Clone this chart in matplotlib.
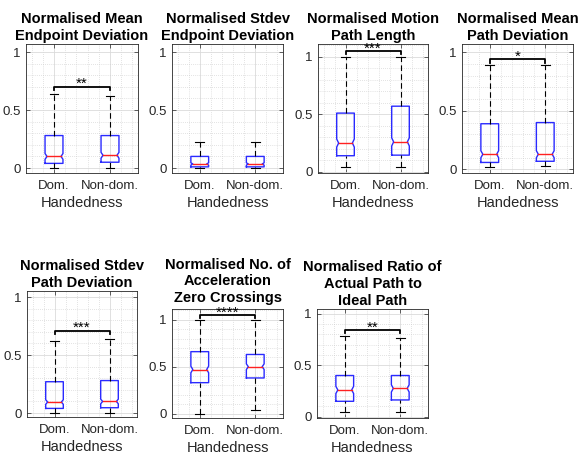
import matplotlib
matplotlib.use("Agg")
import matplotlib.pyplot as plt
from matplotlib.ticker import MultipleLocator

plt.rcParams['font.family'] = ['Liberation Sans', 'DejaVu Sans']

titles = [
    "Normalised Mean\nEndpoint Deviation",
    "Normalised Stdev\nEndpoint Deviation",
    "Normalised Motion\nPath Length",
    "Normalised Mean\nPath Deviation",
    "Normalised Stdev\nPath Deviation",
    "Normalised No. of\nAcceleration\nZero Crossings",
    "Normalised Ratio of\nActual Path to\nIdeal Path",
]
groups = ["Dom.", "Non-dom."]
xlabel = "Handedness"

# box statistics per panel (dominant hand)
lo_dom    = [0.00, 0.00, 0.04, 0.02, 0.00, 0.00, 0.045]
q1_dom    = [0.04, 0.01, 0.14, 0.06, 0.04, 0.33, 0.15]
med_dom   = [0.10, 0.035, 0.25, 0.13, 0.095, 0.47, 0.26]
q3_dom    = [0.28, 0.10, 0.51, 0.39, 0.27, 0.66, 0.40]
hi_dom    = [0.64, 0.225, 1.00, 0.89, 0.62, 1.00, 0.78]
notch_dom = [0.025, 0.01, 0.035, 0.03, 0.02, 0.035, 0.035]
# non-dominant hand
lo_non    = [0.00, 0.00, 0.04, 0.03, 0.00, 0.035, 0.05]
q1_non    = [0.05, 0.01, 0.145, 0.07, 0.046, 0.38, 0.163]
med_non   = [0.11, 0.035, 0.26, 0.13, 0.10, 0.50, 0.275]
q3_non    = [0.28, 0.10, 0.57, 0.40, 0.28, 0.63, 0.40]
hi_non    = [0.625, 0.225, 1.00, 0.89, 0.64, 1.00, 0.76]
notch_non = [0.025, 0.01, 0.035, 0.03, 0.02, 0.03, 0.035]

sig_y      = [0.70, None, 1.05, 0.94, 0.71, 1.05, 0.84]
sig_labels = ["**", "", "***", "*", "***", "****", "**"]

# axes placement in pixels: left, top, right, bottom
W, H = 578, 455
boxes_px = [
    (26, 44, 138, 173),
    (172, 44, 283, 173),
    (318, 44, 428, 173),
    (462, 44, 573, 173),
    (27, 291, 137, 417),
    (172, 309, 283, 418),
    (317, 309, 428, 418),
]
ylims = [
    (-0.043, 1.07), (-0.043, 1.07), (-0.01, 1.11), (-0.03, 1.07),
    (-0.034, 1.052), (-0.046, 1.114), (-0.012, 1.045),
]
title_pads = [3, 3, 3, 3, 3, 5, 3]

fig = plt.figure(figsize=(W / 100, H / 100), dpi=100)

BLUE = "#2a2aff"
def draw_box(ax, x, lo, q1, med, q3, hi, n):
    w = 0.32
    wn = w * 0.78
    xs = [x - w/2, x - w/2, x - wn/2, x - w/2, x - w/2, x + w/2, x + w/2,
          x + wn/2, x + w/2, x + w/2, x - w/2]
    ys = [q1, med - n, med, med + n, q3, q3, med + n, med, med - n, q1, q1]
    ax.plot(xs, ys, color=BLUE, lw=1.0, zorder=3)
    ax.plot([x - wn/2, x + wn/2], [med, med], color="#ff2020", lw=1.0, zorder=4)
    ax.plot([x, x], [q3, hi], color="black", lw=0.8, ls=(0, (5, 3)), zorder=3)
    ax.plot([x, x], [lo, q1], color="black", lw=0.8, ls=(0, (5, 3)), zorder=3)
    cw = 0.08
    ax.plot([x - cw, x + cw], [hi, hi], color="black", lw=0.8, zorder=3)
    ax.plot([x - cw, x + cw], [lo, lo], color="black", lw=0.8, zorder=3)

for i, t in enumerate(titles):
    l, tp, r, b = boxes_px[i]
    ax = fig.add_axes([l / W, 1 - b / H, (r - l) / W, (b - tp) / H])
    ax.set_xlim(0.5, 2.5)
    ax.set_ylim(*ylims[i])
    ax.set_xticks([1, 2])
    ax.set_xticklabels(groups)
    ax.set_yticks([0, 0.5, 1])
    ax.set_yticklabels(["0", "0.5", "1"])
    ax.xaxis.set_minor_locator(MultipleLocator(0.2))
    ax.yaxis.set_minor_locator(MultipleLocator(0.1))
    ax.grid(True, which="major", color="#dadada", lw=0.6, zorder=0)
    ax.grid(True, which="minor", color="#c8c8c8", lw=0.5, ls=(0, (1, 2)), zorder=0)
    ax.tick_params(which="both", direction="in", top=True, right=True,
                   labelsize=9.5, colors="#262626", length=3, width=0.5)
    ax.tick_params(axis="x", pad=5)
    ax.tick_params(axis="y", pad=4)
    ax.tick_params(which="minor", length=0)
    for s in ax.spines.values():
        s.set_color("#262626")
        s.set_linewidth(0.6)
    ax.set_axisbelow(True)

    draw_box(ax, 1, lo_dom[i], q1_dom[i], med_dom[i], q3_dom[i], hi_dom[i], notch_dom[i])
    draw_box(ax, 2, lo_non[i], q1_non[i], med_non[i], q3_non[i], hi_non[i], notch_non[i])

    if sig_y[i] is not None:
        y = sig_y[i]
        d = 0.03
        ax.plot([1, 1, 2, 2], [y - d, y, y, y - d], color="black", lw=1.3,
                zorder=5, clip_on=False)
        ax.annotate(sig_labels[i], (1.5, y), xytext=(0, -1.0),
                    textcoords="offset points", ha="center", va="baseline",
                    fontsize=11, color="black", zorder=6, annotation_clip=False)

    ax.set_title(t, fontsize=10.5, fontweight="bold", linespacing=1.25,
                 pad=title_pads[i])
    ax.set_xlabel(xlabel, fontsize=10.5, color="#262626", labelpad=3)

fig.savefig("out.png", dpi=100)
